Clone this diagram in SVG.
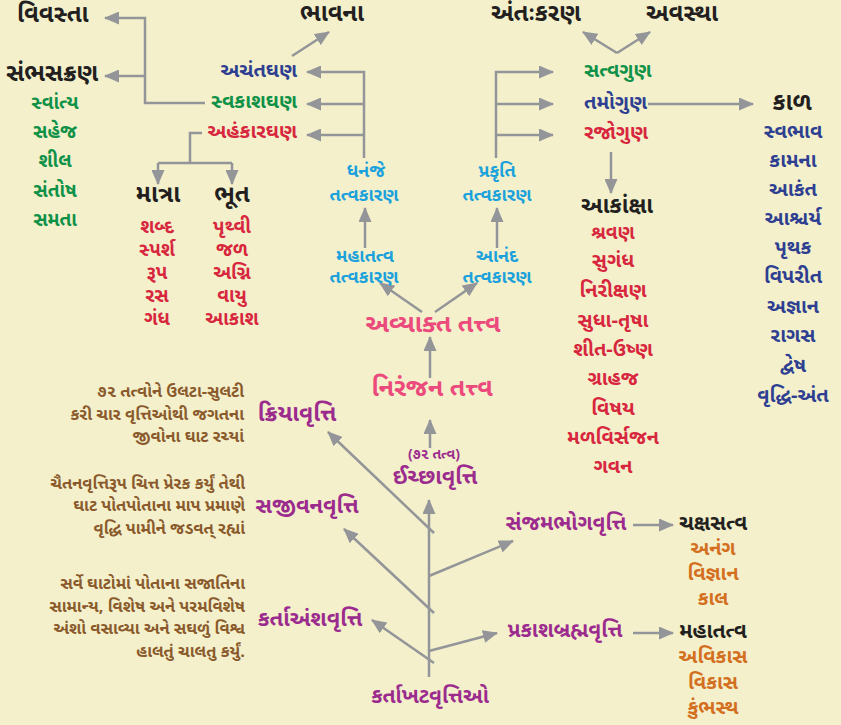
<svg xmlns="http://www.w3.org/2000/svg" width="841" height="725" viewBox="0 0 841 725">
<style>
text{font-family:"Noto Sans Gujarati","Lohit Gujarati","Noto Sans",sans-serif;font-weight:bold;dominant-baseline:central}
.h{fill:#231f20;font-size:24px}
.bl{fill:#2e3f92;font-size:20px}
.gr{fill:#0f9148;font-size:19px}
.rd{fill:#d7263d;font-size:20px}
.rs{fill:#d7263d;font-size:19px}
.cy{fill:#1ba1dc;font-size:18px}
.pk{fill:#ec4a7c;font-size:25px}
.pu{fill:#9c2b8e;font-size:21px}
.br{fill:#8a5a2c;font-size:16.5px;text-anchor:end}
.or{fill:#d36f1e;font-size:20px}
.m{text-anchor:middle}
.c path{fill:none;stroke:#939598;stroke-width:2.5}
</style>
<defs>
<marker id="ah" markerUnits="userSpaceOnUse" markerWidth="15" markerHeight="13" refX="14" refY="6.5" orient="auto">
<path d="M0,0 L15,6.5 L0,13 z" fill="#939598"/>
</marker>
</defs>
<rect width="841" height="725" fill="#f3f0cb"/>
<g class="c" id="connectors">
<path d="M205,103 H145 V18 H105" marker-end="url(#ah)"/>
<path d="M145,76 H105" marker-end="url(#ah)"/>
<path d="M202,133 H190 V163"/>
<path d="M158,163 H232"/>
<path d="M158,163 V184" marker-end="url(#ah)"/>
<path d="M232,163 V184" marker-end="url(#ah)"/>
<path d="M292,56 L329,32" marker-end="url(#ah)"/>
<path d="M364,158 V72 H307" marker-end="url(#ah)"/>
<path d="M364,104 H307" marker-end="url(#ah)"/>
<path d="M364,135 H307" marker-end="url(#ah)"/>
<path d="M496,158 V72 H553" marker-end="url(#ah)"/>
<path d="M496,104 H553" marker-end="url(#ah)"/>
<path d="M496,135 H553" marker-end="url(#ah)"/>
<path d="M617,53 L583,32" marker-end="url(#ah)"/>
<path d="M617,53 L650,32" marker-end="url(#ah)"/>
<path d="M648,104 H753" marker-end="url(#ah)"/>
<path d="M611,152 V193" marker-end="url(#ah)"/>
<path d="M365,248 V208" marker-end="url(#ah)"/>
<path d="M497,248 V208" marker-end="url(#ah)"/>
<path d="M422,312 L380,283" marker-end="url(#ah)"/>
<path d="M435,312 L477,283" marker-end="url(#ah)"/>
<path d="M430,378 V337" marker-end="url(#ah)"/>
<path d="M430,448 V420" marker-end="url(#ah)"/>
<path d="M429,677 V500" marker-end="url(#ah)"/>
<path d="M434,533 L328,432" marker-end="url(#ah)"/>
<path d="M429,576 L513,541" marker-end="url(#ah)"/>
<path d="M434,613 L344,529" marker-end="url(#ah)"/>
<path d="M429,651 L497,633" marker-end="url(#ah)"/>
<path d="M434,663 L372,620" marker-end="url(#ah)"/>
<path d="M633,525 H673" marker-end="url(#ah)"/>
<path d="M633,633 H673" marker-end="url(#ah)"/>
</g>
<g id="vivasta"><text class="h" x="17" y="16">વિવસ્તા</text></g>
<g id="sambhas"><text class="h" x="6" y="75">સંભસક્રણ</text>
<text class="gr m" x="55" y="104">સ્વાંત્ય</text>
<text class="gr m" x="55" y="133">સહેજ</text>
<text class="gr m" x="55" y="162">શીલ</text>
<text class="gr m" x="55" y="192">સંતોષ</text>
<text class="gr m" x="55" y="221">સમતા</text></g>
<g id="bhavna"><text class="h" x="300" y="15">ભાવના</text></g>
<g id="achantghan"><text class="bl" x="297" y="72" text-anchor="end">અચંતઘણ</text></g>
<g id="swakashghan"><text class="gr" x="297" y="103" text-anchor="end" style="font-size:20px">સ્વકાશઘણ</text></g>
<g id="ahankarghan"><text class="rd" x="297" y="133" text-anchor="end">અહંકારઘણ</text></g>
<g id="matra"><text class="h m" x="158" y="196">માત્રા</text>
<text class="rs m" x="157" y="228">શબ્દ</text>
<text class="rs m" x="157" y="251">સ્પર્શ</text>
<text class="rs m" x="157" y="274">રૂપ</text>
<text class="rs m" x="157" y="297">રસ</text>
<text class="rs m" x="157" y="320">ગંધ</text></g>
<g id="bhoot"><text class="h m" x="232" y="196">ભૂત</text>
<text class="rs m" x="232" y="228">પૃથ્વી</text>
<text class="rs m" x="232" y="251">જળ</text>
<text class="rs m" x="232" y="274">અગ્નિ</text>
<text class="rs m" x="232" y="297">વાયુ</text>
<text class="rs m" x="232" y="320">આકાશ</text></g>
<g id="dhananje"><text class="cy m" x="366" y="172">ધનંજે</text><text class="cy m" x="364" y="196">તત્વકારણ</text></g>
<g id="prakruti"><text class="cy m" x="497" y="172">પ્રકૃતિ</text><text class="cy m" x="497" y="196">તત્વકારણ</text></g>
<g id="mahatattva"><text class="cy m" x="365" y="257">મહાતત્વ</text><text class="cy m" x="364" y="278">તત્વકારણ</text></g>
<g id="anand"><text class="cy m" x="497" y="257">આનંદ</text><text class="cy m" x="497" y="278">તત્વકારણ</text></g>
<g id="avyakt"><text class="pk m" x="433" y="326">અવ્યાક્ત તત્ત્વ</text></g>
<g id="niranjan"><text class="pk m" x="432" y="390">નિરંજન તત્ત્વ</text></g>
<g id="antahkaran"><text class="h" x="491" y="15">અંતઃકરણ</text></g>
<g id="avastha"><text class="h" x="646" y="15">અવસ્થા</text></g>
<g id="satvagun"><text class="gr" x="584" y="72" style="font-size:20px">સત્વગુણ</text></g>
<g id="tamogun"><text class="bl" x="584" y="104">તમોગુણ</text></g>
<g id="rajogun"><text class="rd" x="584" y="134">રજોગુણ</text></g>
<g id="kaal"><text class="h m" x="792" y="104">કાળ</text>
<text class="bl m" x="793" y="133">સ્વભાવ</text>
<text class="bl m" x="793" y="162">કામના</text>
<text class="bl m" x="793" y="191">આકંત</text>
<text class="bl m" x="793" y="220">આશ્ચર્ય</text>
<text class="bl m" x="793" y="249">પૃથક</text>
<text class="bl m" x="793" y="278">વિપરીત</text>
<text class="bl m" x="793" y="308">અજ્ઞાન</text>
<text class="bl m" x="793" y="337">રાગસ</text>
<text class="bl m" x="793" y="367">દ્વેષ</text>
<text class="bl m" x="793" y="397">વૃદ્ધિ-અંત</text></g>
<g id="akanksha"><text class="h m" x="617" y="207" style="font-size:23px">આકાંક્ષા</text>
<text class="rs m" x="613" y="234">શ્રવણ</text>
<text class="rd m" x="613" y="262">સુગંધ</text>
<text class="rd m" x="613" y="292">નિરીક્ષણ</text>
<text class="rd m" x="613" y="322">સુધા-તૃષા</text>
<text class="rd m" x="613" y="351">શીત-ઉષ્ણ</text>
<text class="rd m" x="613" y="380">ગ્રાહજ</text>
<text class="rd m" x="613" y="410">વિષય</text>
<text class="rd m" x="613" y="439">મળવિર્સજન</text>
<text class="rd m" x="613" y="468">ગવન</text></g>
<g id="ichchhavrutti"><text class="pu m" x="434" y="455" style="font-size:14px">(૭૨ તત્વ)</text>
<text class="pu m" x="435" y="478" style="font-size:22px">ઈચ્છાવૃત્તિ</text></g>
<g id="kriyavrutti"><text class="pu m" x="297" y="415" style="font-size:23px">ક્રિયાવૃત્તિ</text>
<text class="br" x="244" y="393">૭૨ તત્વોને ઉલટા-સુલટી</text>
<text class="br" x="244" y="416">કરી ચાર વૃત્તિઓથી જગતના</text>
<text class="br" x="244" y="438">જીવોના ઘાટ રચ્યાં</text></g>
<g id="sajivanvrutti"><text class="pu m" x="307" y="507" style="font-size:22px">સજીવનવૃત્તિ</text>
<text class="br" x="245" y="485">ચૈતનવૃત્તિરૂપ ચિત્ત પ્રેરક કર્યું તેથી</text>
<text class="br" x="245" y="507">ઘાટ પોતપોતાના માપ પ્રમાણે</text>
<text class="br" x="245" y="530">વૃદ્ધિ પામીને જડવત્ રહ્યાં</text></g>
<g id="kartaansh"><text class="pu m" x="310" y="620" style="font-size:22px">કર્તાઅંશવૃત્તિ</text>
<text class="br" x="245" y="585">સર્વે ઘાટોમાં પોતાના સજાતિના</text>
<text class="br" x="245" y="608">સામાન્ય, વિશેષ અને પરમવિશેષ</text>
<text class="br" x="245" y="630">અંશો વસાવ્યા અને સઘળું વિશ્વ</text>
<text class="br" x="245" y="653">હાલતું ચાલતુ કર્યું.</text></g>
<g id="sanjambhog"><text class="pu m" x="566" y="525">સંજમભોગવૃત્તિ</text></g>
<g id="prakashbrahm"><text class="pu m" x="565" y="632">પ્રકાશબ્રહ્મવૃત્તિ</text></g>
<g id="kartakhat"><text class="pu m" x="430" y="698">કર્તાખટવૃત્તિઓ</text></g>
<g id="chakshsatva"><text class="h m" x="713" y="525" style="font-size:21px">ચક્ષસત્વ</text>
<text class="or m" x="713" y="550">અનંગ</text>
<text class="or m" x="713" y="575">વિજ્ઞાન</text>
<text class="or m" x="713" y="600">કાલ</text></g>
<g id="mahatattva2"><text class="h m" x="713" y="633" style="font-size:21px">મહાતત્વ</text>
<text class="or m" x="713" y="658">અવિકાસ</text>
<text class="or m" x="713" y="684">વિકાસ</text>
<text class="or m" x="713" y="709">કુંભસ્થ</text></g>
</svg>
